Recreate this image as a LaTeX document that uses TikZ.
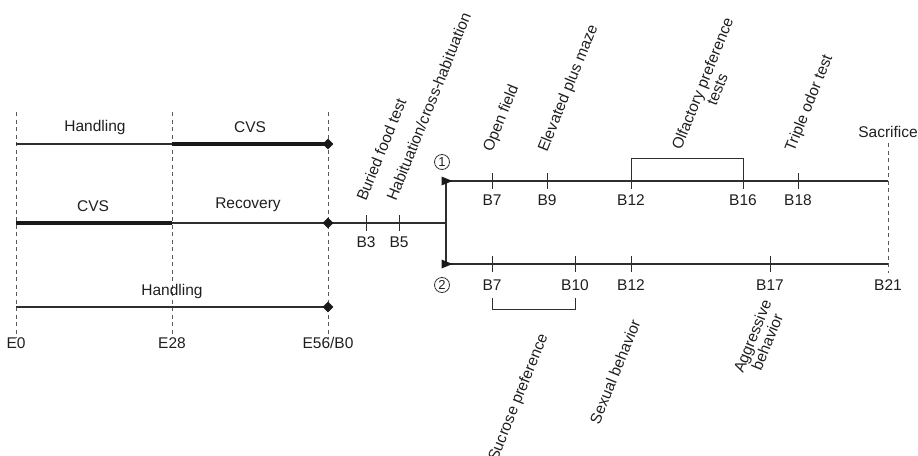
\documentclass[tikz,border=0pt]{standalone}
\usepackage{fontspec}
\setmainfont{Liberation Sans}
\usetikzlibrary{shapes.geometric}
\begin{document}
\begin{tikzpicture}[x=1pt,y=-1pt,
  every node/.style={font=\fontsize{15.5}{16}\selectfont, text=black!88, inner sep=0pt},
  thinline/.style={line width=1.2pt, draw=black!82},
  thickline/.style={line width=4pt, draw=black!90},
  vdash/.style={line width=0.8pt, draw=black!65, dash pattern=on 4pt off 3.5pt},
  tickmark/.style={line width=1pt, draw=black!82},
  endmark/.style={diamond, fill=black!90, minimum width=11pt, minimum height=11pt, inner sep=0pt},
  numcirc/.style={circle, draw=black!80, line width=0.8pt, minimum size=15pt, inner sep=0pt, font=\fontsize{13}{13}\selectfont},
  rotlab/.style={rotate=68, anchor=base west},
  rotlabE/.style={rotate=68, anchor=base east},
  arrowhead/.style={fill=black!90},
]
\useasboundingbox (0,0) rectangle (918,455);

% ---- dashed day markers
\coordinate (E0top) at (16,112);
\coordinate (E28top) at (172,112);
\coordinate (E56top) at (328,112);
\node (E0) at (16,343) {E0};
\node (E28) at (172,343) {E28};
\node (E56) at (328,343) {E56/B0};
\draw[vdash] (E0top) -- (E0.north);
\draw[vdash] (E28top) -- (E28.north);
\draw[vdash] (E56top) -- (E56.north);

% ---- row 1
\coordinate (r1s) at (16,144);
\coordinate (r1m) at (172,144);
\coordinate (d1c) at (328,144);
\draw[thinline] (r1s) -- (r1m);
\draw[thickline] (r1m) -- (d1c);
\node[endmark] (d1) at (d1c) {};
\node (h1) at (95,127) {Handling};
\node (cvs1) at (250,127) {CVS};

% ---- row 2
\coordinate (r2s) at (16,223);
\coordinate (r2m) at (172,223);
\coordinate (d2c) at (328,223);
\coordinate (br) at (446,223);
\draw[thickline] (r2s) -- (r2m);
\draw[thinline] (r2m) -- (br);
\node[endmark] (d2) at (d2c) {};
\node (cvs2) at (93,206) {CVS};
\node (rec) at (248,205) {Recovery};

% ---- row 3
\coordinate (r3s) at (16,307);
\coordinate (d3c) at (328,307);
\draw[thinline] (r3s) -- (d3c);
\node[endmark] (d3) at (d3c) {};
\node (h3) at (172,291) {Handling};

% ---- B3, B5 on row 2
\coordinate (b3) at (366,223);
\coordinate (b5) at (399,223);
\draw[tickmark] (b3) ++(0,-8) -- ++(0,16);
\draw[tickmark] (b5) ++(0,-8) -- ++(0,16);
\node (lb3) at (366,242) {B3};
\node (lb5) at (399,242) {B5};
\node[rotlab] (buried) at (366,202) {Buried food test};
\node[rotlab] (habit) at (396,202) {Habituation/cross-habituation};

% ---- branch
\coordinate (bt) at (446,181);
\coordinate (bb) at (446,264);
\coordinate (e1) at (888,181);
\coordinate (e2) at (888,264);
\draw[thinline] (bt) -- (bb);
\draw[thinline] (bt) -- (e1);
\draw[thinline] (bb) -- (e2);
\fill[arrowhead] (441.5,176.5) -- (452.5,181) -- (441.5,185.5) -- cycle;
\fill[arrowhead] (441.5,259.5) -- (452.5,264) -- (441.5,268.5) -- cycle;
\node[numcirc] (c1) at (442,162) {1};
\node[numcirc] (c2) at (442,285) {2};

% ---- sacrifice
\node (sac) at (888,132) {Sacrifice};
\coordinate (sact) at (888,143);
\coordinate (sacb) at (888,273);
\draw[vdash] (sact) -- (sacb);
\node (lb21) at (888,285) {B21};

% ---- branch 1 ticks
\coordinate (u7) at (492,181);
\coordinate (u9) at (547,181);
\coordinate (u12) at (631,181);
\coordinate (u16) at (743,181);
\coordinate (u18) at (798,181);
\foreach \c in {u7,u9,u12,u16,u18} {\draw[tickmark] (\c) ++(0,-8) -- ++(0,16);}
\node (lu7) at (492,200) {B7};
\node (lu9) at (547,200) {B9};
\node (lu12) at (631,200) {B12};
\node (lu16) at (743,200) {B16};
\node (lu18) at (798,200) {B18};
\coordinate (bk1a) at (631,173);
\coordinate (bk1b) at (743,173);
\draw[tickmark] (bk1a) -- (631,158) -- (743,158) -- (bk1b);
\node[rotlab] (open) at (492,153) {Open field};
\node[rotlab] (epm) at (547,153) {Elevated plus maze};
\node[rotlab] (olf) at (681,151) {\begin{tabular}[t]{@{}c@{}}Olfactory preference\\tests\end{tabular}};
\node[rotlab] (triple) at (794,153) {Triple odor test};

% ---- branch 2 ticks
\coordinate (l7) at (492,264);
\coordinate (l10) at (575,264);
\coordinate (l12) at (631,264);
\coordinate (l17) at (770,264);
\foreach \c in {l7,l10,l12,l17} {\draw[tickmark] (\c) ++(0,-8) -- ++(0,16);}
\node (ll7) at (492,285) {B7};
\node (ll10) at (575,285) {B10};
\node (ll12) at (631,285) {B12};
\node (ll17) at (770,285) {B17};
\coordinate (bk2a) at (492,298);
\coordinate (bk2b) at (575,298);
\draw[tickmark] (bk2a) -- (492,309) -- (575,309) -- (bk2b);
\node[rotlabE] (suc) at (548,336) {Sucrose preference};
\node[rotlabE] (sex) at (641,322) {Sexual behavior};
\node[rotlab] (agg) at (743,374) {\begin{tabular}[t]{@{}c@{}}Aggressive\\behavior\end{tabular}};
\end{tikzpicture}
\end{document}
